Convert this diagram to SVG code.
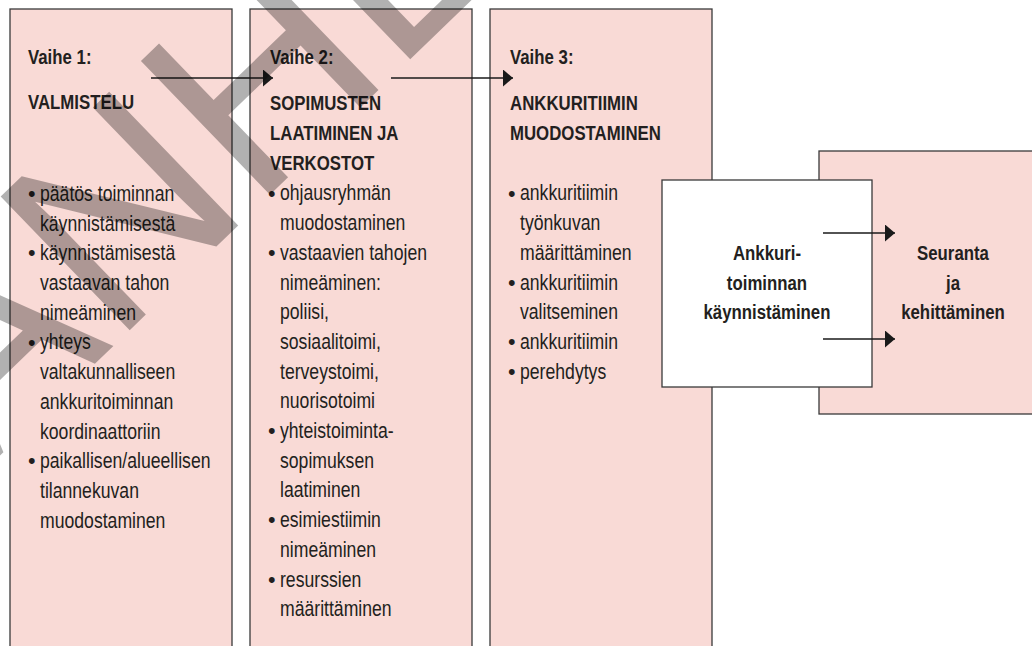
<svg xmlns="http://www.w3.org/2000/svg" width="1032" height="646" viewBox="0 0 1032 646">
  <defs>
    <marker id="ah" viewBox="0 0 10 17" refX="10" refY="8.5" markerWidth="10" markerHeight="17" markerUnits="userSpaceOnUse" orient="auto">
      <path d="M0,0 L10,8.5 L0,17 z" fill="#1a1a1a"/>
    </marker>
  </defs>
  <style>
    .box { fill: #f9dad6; stroke: #3a3a3a; stroke-width: 1.3; }
    .wbox { fill: #ffffff; stroke: #3a3a3a; stroke-width: 1.3; }
    .t { font-family: 'Liberation Sans', Arial, sans-serif; font-size: 21.5px; fill: #231f20; }
    .b { font-family: 'Liberation Sans', Arial, sans-serif; font-size: 20.5px; font-weight: bold; fill: #231f20; }
    .c { text-anchor: middle; }
    .conn { stroke: #1a1a1a; stroke-width: 1.3; fill: none; marker-end: url(#ah); }
    .wm { font-family: 'Liberation Sans', Arial, sans-serif; font-size: 270px; fill: #000; opacity: 0.3; }
  </style>

  <g id="vaihe1">
    <rect class="box" x="10" y="9" width="222" height="660"/>
    <g transform="matrix(0.82,0,0,1,5.04,0)">
      <text class="b" x="28" y="64">Vaihe 1:</text>
      <text class="b" x="28" y="109">VALMISTELU</text>
    </g>
    <text class="t" x="28" y="201">•</text>
    <text class="t" x="28" y="260.4">•</text>
    <text class="t" x="28" y="349.5">•</text>
    <text class="t" x="28" y="468.3">•</text>
    <g transform="matrix(0.82,0,0,1,7.2,0)">
      <text class="t" x="40" y="201">päätös toiminnan</text>
      <text class="t" x="40" y="230.7">käynnistämisestä</text>
      <text class="t" x="40" y="260.4">käynnistämisestä</text>
      <text class="t" x="40" y="290.1">vastaavan tahon</text>
      <text class="t" x="40" y="319.8">nimeäminen</text>
      <text class="t" x="40" y="349.5">yhteys</text>
      <text class="t" x="40" y="379.2">valtakunnalliseen</text>
      <text class="t" x="40" y="408.9">ankkuritoiminnan</text>
      <text class="t" x="40" y="438.6">koordinaattoriin</text>
      <text class="t" x="40" y="468.3">paikallisen/alueellisen</text>
      <text class="t" x="40" y="498">tilannekuvan</text>
      <text class="t" x="40" y="527.7">muodostaminen</text>
    </g>
  </g>

  <g id="vaihe2">
    <rect class="box" x="250" y="9" width="222" height="660"/>
    <g transform="matrix(0.82,0,0,1,48.6,0)">
      <text class="b" x="270" y="64">Vaihe 2:</text>
      <text class="b" x="270" y="110">SOPIMUSTEN</text>
      <text class="b" x="270" y="140">LAATIMINEN JA</text>
      <text class="b" x="270" y="170">VERKOSTOT</text>
    </g>
    <text class="t" x="268" y="200.5">•</text>
    <text class="t" x="268" y="259.9">•</text>
    <text class="t" x="268" y="438.1">•</text>
    <text class="t" x="268" y="527.2">•</text>
    <text class="t" x="268" y="586.6">•</text>
    <g transform="matrix(0.82,0,0,1,50.4,0)">
      <text class="t" x="280" y="200.5">ohjausryhmän</text>
      <text class="t" x="280" y="230.2">muodostaminen</text>
      <text class="t" x="280" y="259.9">vastaavien tahojen</text>
      <text class="t" x="280" y="289.6">nimeäminen:</text>
      <text class="t" x="280" y="319.3">poliisi,</text>
      <text class="t" x="280" y="349">sosiaalitoimi,</text>
      <text class="t" x="280" y="378.7">terveystoimi,</text>
      <text class="t" x="280" y="408.4">nuorisotoimi</text>
      <text class="t" x="280" y="438.1">yhteistoiminta-</text>
      <text class="t" x="280" y="467.8">sopimuksen</text>
      <text class="t" x="280" y="497.5">laatiminen</text>
      <text class="t" x="280" y="527.2">esimiestiimin</text>
      <text class="t" x="280" y="556.9">nimeäminen</text>
      <text class="t" x="280" y="586.6">resurssien</text>
      <text class="t" x="280" y="616.3">määrittäminen</text>
    </g>
  </g>

  <g id="vaihe3">
    <rect class="box" x="490" y="9" width="222" height="660"/>
    <g transform="matrix(0.82,0,0,1,91.8,0)">
      <text class="b" x="510" y="64">Vaihe 3:</text>
      <text class="b" x="510" y="110">ANKKURITIIMIN</text>
      <text class="b" x="510" y="140">MUODOSTAMINEN</text>
    </g>
    <text class="t" x="508" y="200.5">•</text>
    <text class="t" x="508" y="289.6">•</text>
    <text class="t" x="508" y="349">•</text>
    <text class="t" x="508" y="378.7">•</text>
    <g transform="matrix(0.82,0,0,1,93.6,0)">
      <text class="t" x="520" y="200.5">ankkuritiimin</text>
      <text class="t" x="520" y="230.2">työnkuvan</text>
      <text class="t" x="520" y="259.9">määrittäminen</text>
      <text class="t" x="520" y="289.6">ankkuritiimin</text>
      <text class="t" x="520" y="319.3">valitseminen</text>
      <text class="t" x="520" y="349">ankkuritiimin</text>
      <text class="t" x="520" y="378.7">perehdytys</text>
    </g>
  </g>

  <g id="seuranta">
    <rect class="box" x="819" y="151" width="230" height="263"/>
    <g transform="matrix(0.82,0,0,1,171.54,0)">
      <text class="b c" x="953" y="260">Seuranta</text>
      <text class="b c" x="953" y="290">ja</text>
      <text class="b c" x="953" y="319">kehittäminen</text>
    </g>
  </g>

  <g id="kaynnistaminen">
    <rect class="wbox" x="662" y="180" width="210" height="207"/>
    <g transform="matrix(0.82,0,0,1,138.06,0)">
      <text class="b c" x="767" y="260">Ankkuri-</text>
      <text class="b c" x="767" y="290">toiminnan</text>
      <text class="b c" x="767" y="319">käynnistäminen</text>
    </g>
  </g>

  <g id="connectors">
    <line class="conn" x1="151" y1="78" x2="273" y2="78"/>
    <line class="conn" x1="391" y1="78" x2="513" y2="78"/>
    <line class="conn" x1="823" y1="233" x2="895" y2="233"/>
    <line class="conn" x1="823" y1="339" x2="895" y2="339"/>
  </g>

  <g id="watermark">
    <text class="wm" transform="translate(244.6,219.2) rotate(-44) translate(-522,0)">VANHENTUNUT</text>
  </g>
</svg>
